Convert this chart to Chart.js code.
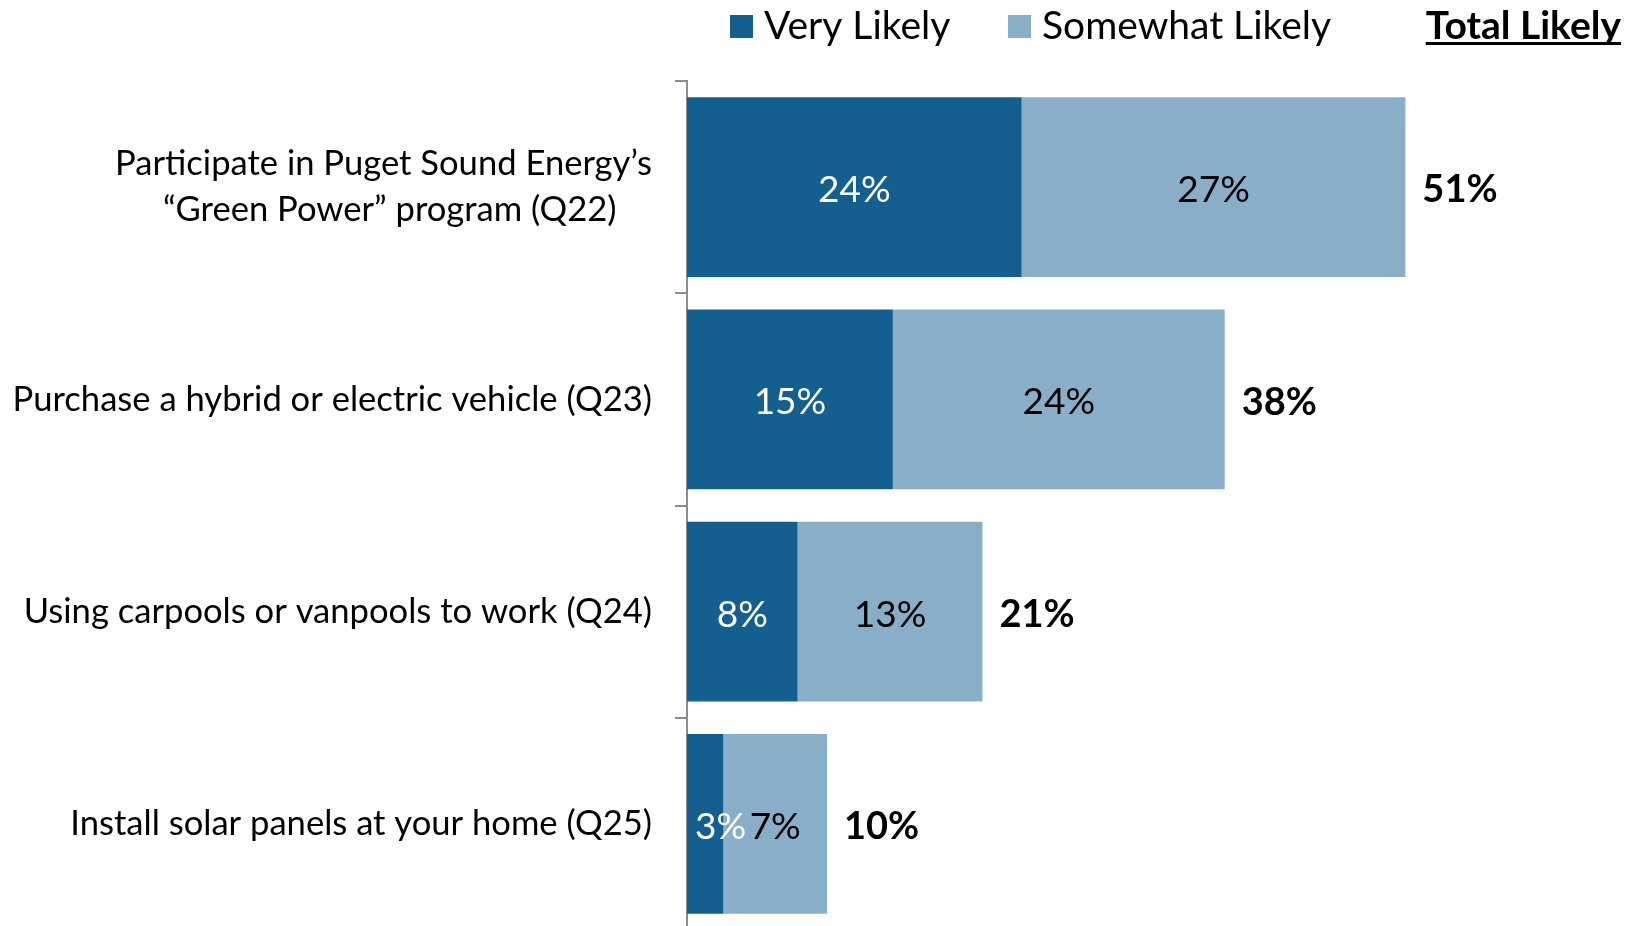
<!DOCTYPE html>
<html>
<head>
<meta charset="utf-8">
<script src="https://cdn.jsdelivr.net/npm/chart.js@4.4.1/dist/chart.umd.min.js"></script>
<style>
  html, body { margin: 0; padding: 0; background: #fff; overflow: hidden; }
  #wrap { position: absolute; left: 0; top: 0; width: 1635px; height: 930px; }
</style>
</head>
<body>
<div id="wrap"><canvas id="chart" width="1635" height="930"></canvas></div>
<script>
// Survey items (y categories); the trailing no-break spaces centre the short second line
const categories = [
  ['Participate in Puget Sound Energy\u2019s', '\u201cGreen Power\u201d program (Q22)\u00a0\u00a0\u00a0\u00a0'],
  'Purchase a hybrid or electric vehicle (Q23)',
  'Using carpools or vanpools to work (Q24)',
  'Install solar panels at your home (Q25)'
];
const veryLikely = [23.9, 14.7, 7.9, 2.6];
const somewhatLikely = [27.4, 23.7, 13.2, 7.4];
const seriesNames = ['Very Likely', 'Somewhat Likely'];
const totalHeader = 'Total Likely';

const DARK = '#135f8f';
const LIGHT = '#88aec8';
const AXIS = '#8c8c8c';
const FONT = 'Lato';

const pct = v => `${Math.round(v)}%`;

// value labels inside the segments plus bold totals at the end of each bar
const labelsPlugin = {
  id: 'barLabels',
  afterDatasetsDraw(chart) {
    const ctx = chart.ctx;
    ctx.save();
    ctx.textBaseline = 'middle';
    ctx.font = `37px ${FONT}`;
    chart.data.datasets.forEach((ds, di) => {
      const meta = chart.getDatasetMeta(di);
      meta.data.forEach((bar, i) => {
        const text = pct(ds.data[i]);
        const w = ctx.measureText(text).width;
        let cx = (bar.base + bar.x) / 2;
        cx = Math.max(cx, bar.base + w / 2 + 8);
        ctx.fillStyle = di === 0 ? '#ffffff' : '#000000';
        ctx.textAlign = 'center';
        ctx.fillText(text, cx, bar.y + 3);
      });
    });
    // totals
    const last = chart.getDatasetMeta(chart.data.datasets.length - 1);
    ctx.font = `bold 38px ${FONT}`;
    ctx.fillStyle = '#000000';
    ctx.textAlign = 'left';
    last.data.forEach((bar, i) => {
      ctx.fillText(pct(veryLikely[i] + somewhatLikely[i]), bar.x + 17, bar.y + 3);
    });
    ctx.restore();
  }
};

// legend row at the top, with the underlined "Total Likely" header
const legendPlugin = {
  id: 'topLegend',
  afterDraw(chart) {
    const ctx = chart.ctx;
    ctx.save();
    ctx.font = `39px ${FONT}`;
    ctx.textBaseline = 'middle';
    ctx.textAlign = 'left';
    const items = [
      { x: 730, color: DARK, text: seriesNames[0] },
      { x: 1008, color: LIGHT, text: seriesNames[1] }
    ];
    items.forEach(it => {
      ctx.fillStyle = it.color;
      ctx.fillRect(it.x, 15, 23, 23);
      ctx.fillStyle = '#000';
      ctx.fillText(it.text, it.x + 34, 26);
    });
    ctx.font = `bold 39px ${FONT}`;
    ctx.textAlign = 'right';
    ctx.fillText(totalHeader, 1621, 26);
    const tw = ctx.measureText(totalHeader).width;
    ctx.fillRect(1621 - tw, 42, tw, 3);
    ctx.restore();
  }
};

new Chart(document.getElementById('chart'), {
  type: 'bar',
  data: {
    labels: categories,
    datasets: [
      { label: seriesNames[0], data: veryLikely, backgroundColor: DARK },
      { label: seriesNames[1], data: somewhatLikely, backgroundColor: LIGHT }
    ]
  },
  options: {
    indexAxis: 'y',
    responsive: false,
    animation: false,
    layout: { padding: { top: 81, right: 0, bottom: 0, left: 0 } },
    datasets: { bar: { categoryPercentage: 1, barPercentage: 0.848 } },
    plugins: {
      legend: { display: false },
      tooltip: { enabled: false }
    },
    scales: {
      x: { stacked: true, display: false, min: 0, max: 67.7 },
      y: {
        stacked: true,
        afterFit: (scale) => {
          scale.width = 687;
          scale.paddingTop = 0;
          scale.paddingBottom = 0;
        },
        grid: {
          offset: true,
          drawOnChartArea: false,
          drawTicks: true,
          tickLength: 12,
          color: AXIS,
          lineWidth: 2
        },
        border: { color: AXIS, width: 2 },
        ticks: {
          color: '#000',
          padding: 23,
          font: { family: FONT, size: 34.6, lineHeight: 1.33 }
        }
      }
    }
  },
  plugins: [labelsPlugin, legendPlugin]
});
</script>
</body>
</html>
